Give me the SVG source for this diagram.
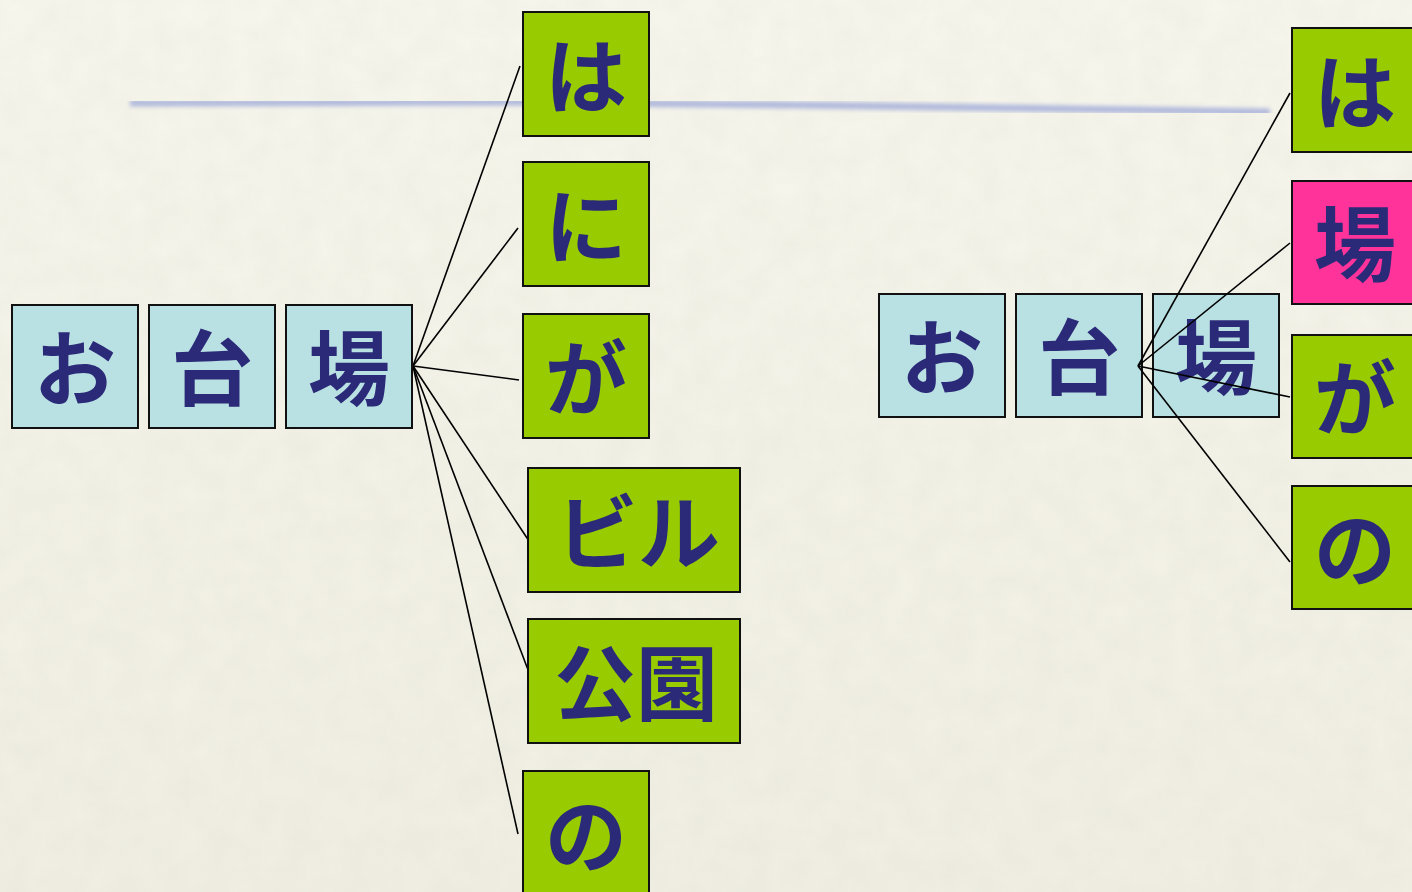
<svg xmlns="http://www.w3.org/2000/svg" width="1412" height="892" viewBox="0 0 1412 892">
<defs>
<style>
.blue{fill:#b9e0e3;stroke:#111;stroke-width:2}
.green{fill:#99cc00;stroke:#111;stroke-width:2}
.pink{fill:#ff3399;stroke:#111;stroke-width:2}
.t{font-family:"Noto Sans CJK JP","Noto Sans CJK SC",sans-serif;font-weight:bold;font-size:82px;fill:#2b2a78;text-anchor:middle}
.c{stroke:#000;stroke-width:1.6;fill:none}
</style>
<filter id="tex" x="0" y="0" width="100%" height="100%">
<feTurbulence type="fractalNoise" baseFrequency="0.035" numOctaves="3" seed="4" result="n"/>
<feColorMatrix in="n" type="matrix" values="0 0 0 0 0.6  0 0 0 0 0.6  0 0 0 0 0.52  0 0 0 0.16 0"/>
</filter>
<filter id="blur"><feGaussianBlur stdDeviation="2.2"/></filter>
<linearGradient id="bg" x1="0" y1="0" x2="0" y2="1">
<stop offset="0" stop-color="#f8f7ee"/>
<stop offset="1" stop-color="#f1efe3"/>
</linearGradient>
</defs>
<rect width="1412" height="892" fill="url(#bg)"/>
<rect width="1412" height="892" filter="url(#tex)"/>
<path d="M130 103 L520 102 L800 105 L1270 112" stroke="#9aa6d8" stroke-width="7" fill="none" filter="url(#blur)" opacity="0.75"/>

<g id="connectors">
<line class="c" x1="413" y1="366" x2="520" y2="66"/>
<line class="c" x1="413" y1="366" x2="518" y2="228"/>
<line class="c" x1="413" y1="366" x2="519" y2="380"/>
<line class="c" x1="413" y1="366" x2="533" y2="547"/>
<line class="c" x1="413" y1="366" x2="533" y2="683"/>
<line class="c" x1="413" y1="366" x2="518" y2="834"/>
</g>

<g id="n-o"><rect class="blue" x="12" y="305" width="126" height="123"/><text class="t" x="75" y="399">お</text></g>
<g id="n-dai"><rect class="blue" x="149" y="305" width="126" height="123"/><text class="t" x="212" y="399">台</text></g>
<g id="n-ba"><rect class="blue" x="286" y="305" width="126" height="123"/><text class="t" x="349" y="399">場</text></g>

<g id="n-ha"><rect class="green" x="523" y="12" width="126" height="124"/><text class="t" x="586" y="107">は</text></g>
<g id="n-ni"><rect class="green" x="523" y="162" width="126" height="124"/><text class="t" x="586" y="257">に</text></g>
<g id="n-ga"><rect class="green" x="523" y="314" width="126" height="124"/><text class="t" x="586" y="409">が</text></g>
<g id="n-biru"><rect class="green" x="528" y="468" width="212" height="124"/><text class="t" x="638" y="563">ビル</text></g>
<g id="n-kouen"><rect class="green" x="528" y="619" width="212" height="124"/><text class="t" x="636" y="714">公園</text></g>
<g id="n-no"><rect class="green" x="523" y="771" width="126" height="130"/><text class="t" x="586" y="866">の</text></g>

<g id="n2-o"><rect class="blue" x="879" y="294" width="126" height="123"/><text class="t" x="942" y="388">お</text></g>
<g id="n2-dai"><rect class="blue" x="1016" y="294" width="126" height="123"/><text class="t" x="1079" y="388">台</text></g>
<g id="n2-ba"><rect class="blue" x="1153" y="294" width="126" height="123"/><text class="t" x="1216" y="388">場</text></g>

<g id="n2-ha"><rect class="green" x="1292" y="28" width="130" height="124"/><text class="t" x="1355" y="123">は</text></g>
<g id="n2-ba2"><rect class="pink" x="1292" y="181" width="130" height="123"/><text class="t" x="1355" y="275">場</text></g>
<g id="n2-ga"><rect class="green" x="1292" y="335" width="130" height="123"/><text class="t" x="1355" y="429">が</text></g>
<g id="n2-no"><rect class="green" x="1292" y="486" width="130" height="123"/><text class="t" x="1355" y="580">の</text></g>

<g id="connectors2">
<line class="c" x1="1138" y1="366" x2="1290" y2="93"/>
<line class="c" x1="1138" y1="366" x2="1290" y2="243"/>
<line class="c" x1="1138" y1="366" x2="1290" y2="397"/>
<line class="c" x1="1138" y1="366" x2="1290" y2="562"/>
</g>
</svg>
